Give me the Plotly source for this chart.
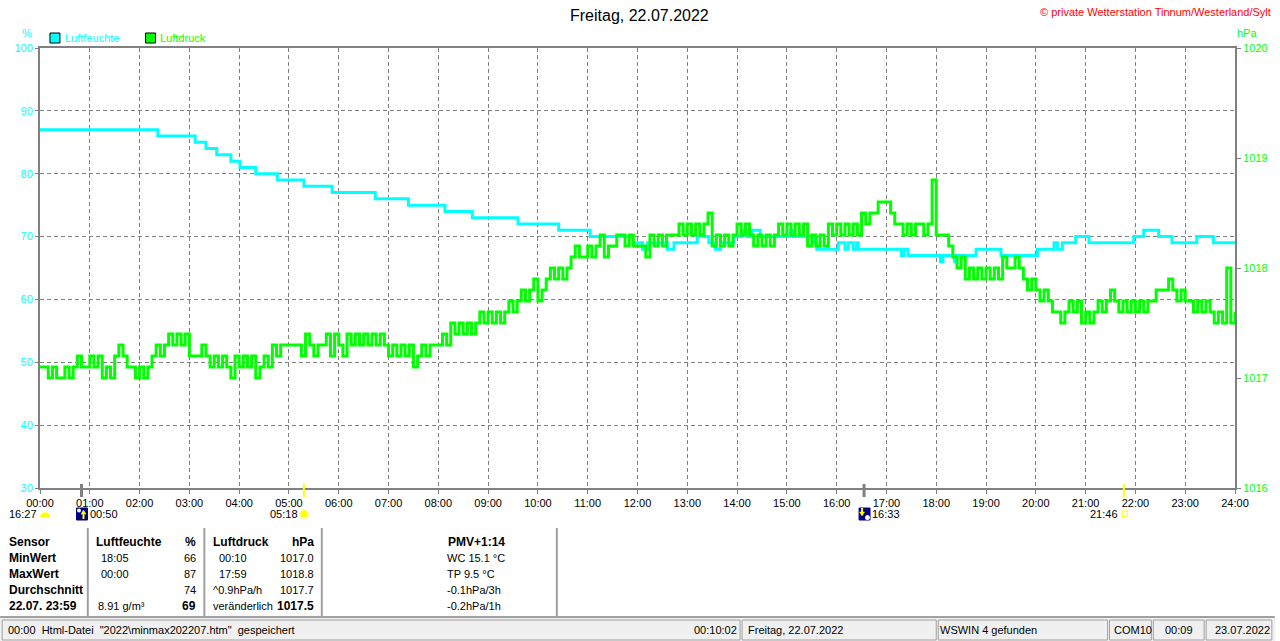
import math
import plotly.graph_objects as go

# --- data -------------------------------------------------------------
hour_labels = ["%02d:00" % h for h in range(25)]

# Luftfeuchte (%), step changes
hum_times = ["00:00", "02:22", "03:07", "03:20", "03:33", "03:50", "04:01", "04:20", "04:46", "05:18",
             "05:52", "06:44", "07:24", "08:08", "08:41", "09:36", "10:25", "11:03", "11:54", "12:06",
             "12:12", "12:36", "12:44", "13:12", "13:26", "13:34", "13:40", "13:56", "14:06", "14:12",
             "14:18", "14:28", "15:04", "15:08", "15:32", "15:36", "16:02", "16:10", "16:14", "16:20",
             "16:24", "16:26", "17:18", "17:21", "17:26", "18:05", "18:08", "18:22", "18:25", "18:48",
             "19:18", "20:02", "20:22", "20:26", "20:32", "20:48", "21:04", "21:58", "22:10", "22:28",
             "22:44", "23:14", "23:34", "24:00"]
hum_values = [87, 86, 85, 84, 83, 82, 81, 80, 79, 78,
              77, 76, 75, 74, 73, 72, 71, 70, 69, 68,
              69, 68, 69, 70, 69, 68, 69, 70, 71, 70,
              71, 70, 71, 70, 69, 68, 69, 68, 69, 68,
              69, 68, 67, 68, 67, 66, 67, 66, 67, 68,
              67, 68, 69, 68, 69, 70, 69, 70, 71, 70,
              69, 70, 69, 69]

# Luftdruck (hPa), one row per hour, 5-minute readings
press_rows = [
    [1017.1, 1017.1, 1017.0, 1017.1, 1017.0, 1017.0, 1017.1, 1017.0, 1017.1, 1017.2, 1017.1, 1017.1],
    [1017.2, 1017.1, 1017.2, 1017.0, 1017.1, 1017.0, 1017.2, 1017.3, 1017.2, 1017.1, 1017.1, 1017.0],
    [1017.1, 1017.0, 1017.1, 1017.2, 1017.3, 1017.2, 1017.3, 1017.4, 1017.3, 1017.4, 1017.3, 1017.4],
    [1017.2, 1017.2, 1017.2, 1017.3, 1017.2, 1017.1, 1017.2, 1017.1, 1017.2, 1017.1, 1017.0, 1017.2],
    [1017.1, 1017.2, 1017.1, 1017.2, 1017.0, 1017.1, 1017.2, 1017.1, 1017.3, 1017.2, 1017.3, 1017.3],
    [1017.3, 1017.3, 1017.3, 1017.2, 1017.4, 1017.3, 1017.2, 1017.3, 1017.3, 1017.4, 1017.2, 1017.4],
    [1017.3, 1017.2, 1017.4, 1017.3, 1017.4, 1017.3, 1017.4, 1017.3, 1017.4, 1017.3, 1017.4, 1017.3],
    [1017.2, 1017.3, 1017.2, 1017.3, 1017.2, 1017.3, 1017.1, 1017.2, 1017.3, 1017.2, 1017.3, 1017.3],
    [1017.3, 1017.4, 1017.3, 1017.5, 1017.4, 1017.5, 1017.4, 1017.5, 1017.4, 1017.5, 1017.6, 1017.5],
    [1017.6, 1017.5, 1017.6, 1017.5, 1017.6, 1017.7, 1017.6, 1017.7, 1017.8, 1017.7, 1017.8, 1017.9],
    [1017.7, 1017.8, 1017.9, 1018.0, 1017.9, 1018.0, 1017.9, 1018.0, 1018.1, 1018.2, 1018.1, 1018.1],
    [1018.2, 1018.1, 1018.2, 1018.3, 1018.1, 1018.2, 1018.2, 1018.3, 1018.3, 1018.2, 1018.3, 1018.2],
    [1018.2, 1018.2, 1018.1, 1018.3, 1018.2, 1018.3, 1018.2, 1018.3, 1018.3, 1018.3, 1018.4, 1018.3],
    [1018.4, 1018.3, 1018.4, 1018.3, 1018.4, 1018.5, 1018.2, 1018.3, 1018.2, 1018.3, 1018.2, 1018.3],
    [1018.4, 1018.3, 1018.4, 1018.3, 1018.2, 1018.3, 1018.2, 1018.3, 1018.2, 1018.3, 1018.4, 1018.3],
    [1018.4, 1018.3, 1018.4, 1018.3, 1018.4, 1018.2, 1018.3, 1018.2, 1018.3, 1018.2, 1018.4, 1018.3],
    [1018.4, 1018.3, 1018.4, 1018.3, 1018.4, 1018.3, 1018.5, 1018.4, 1018.5, 1018.5, 1018.6, 1018.6],
    [1018.6, 1018.5, 1018.4, 1018.4, 1018.3, 1018.4, 1018.3, 1018.4, 1018.4, 1018.3, 1018.4, 1018.8],
    [1018.3, 1018.3, 1018.3, 1018.2, 1018.1, 1018.0, 1018.1, 1017.9, 1018.0, 1017.9, 1018.0, 1017.9],
    [1018.0, 1017.9, 1018.0, 1017.9, 1018.1, 1018.0, 1018.0, 1018.1, 1018.0, 1017.9, 1017.8, 1017.9],
    [1017.8, 1017.7, 1017.8, 1017.7, 1017.6, 1017.6, 1017.5, 1017.6, 1017.7, 1017.6, 1017.7, 1017.5],
    [1017.6, 1017.5, 1017.6, 1017.7, 1017.6, 1017.7, 1017.8, 1017.7, 1017.6, 1017.7, 1017.6, 1017.7],
    [1017.6, 1017.7, 1017.6, 1017.7, 1017.7, 1017.8, 1017.8, 1017.8, 1017.9, 1017.8, 1017.7, 1017.8],
    [1017.7, 1017.7, 1017.6, 1017.7, 1017.6, 1017.7, 1017.6, 1017.5, 1017.6, 1017.5, 1018.0, 1017.5],
]
press_last = 1017.6

sun_times = ["05:18", "21:46"]
moon_times = ["00:50", "16:33"]

table_rows = ["Sensor", "MinWert", "MaxWert", "Durchschnitt", "22.07. 23:59"]
hum_col_time = ["18:05", "00:00", "", "8.91 g/m³"]
hum_col_val = ["66", "87", "74", "69"]
press_col_time = ["00:10", "17:59", "^0.9hPa/h", "veränderlich"]
press_col_val = ["1017.0", "1018.8", "1017.7", "1017.5"]
extra_col = ["WC 15.1 °C", "TP 9.5 °C", "-0.1hPa/3h", "-0.2hPa/1h"]

# --- helpers ----------------------------------------------------------
W, H = 1280, 641
L, R, T, B = 40, 1240, 48, 488
FONT = "Liberation Sans, Arial, sans-serif"
GRAY = "#808080"
CYAN = "#00ffff"
GREEN = "#00ff00"


def to_min(s):
    h, m = s.split(":")
    return int(h) * 60 + int(m)


def px(x):
    return (x - L) / (R - L)


def py(y):
    return (B - y) / (B - T)


def xpix(minutes):
    return L + minutes / 1440 * (R - L)


hum_x = [to_min(t) for t in hum_times]
pressure = [v for row in press_rows for v in row] + [press_last]
press_x = list(range(0, 1441, 5))

fig = go.Figure()
fig.add_trace(go.Scatter(x=press_x, y=pressure, yaxis="y2", mode="lines",
                         line=dict(color=GREEN, width=3, shape="hv"), name="Luftdruck"))
fig.add_trace(go.Scatter(x=hum_x, y=hum_values, mode="lines",
                         line=dict(color=CYAN, width=3, shape="hv"), name="Luftfeuchte"))

shapes = []
annotations = []


def text(x, y, s, anchor="left", color="black", size=11, bold=False):
    annotations.append(dict(x=px(x), y=py(y), xref="paper", yref="paper",
                            text="<b>%s</b>" % s if bold else s, showarrow=False,
                            xanchor=anchor, yanchor="middle", borderpad=0,
                            font=dict(color=color, size=size, family=FONT)))


def rect(x0, y0, x1, y1, fill=None, line="black", lw=1):
    shapes.append(dict(type="rect", xref="paper", yref="paper",
                       x0=px(x0), x1=px(x1), y0=py(y0), y1=py(y1),
                       fillcolor=fill if fill else "rgba(0,0,0,0)",
                       line=dict(color=line, width=lw)))


def seg(x0, y0, x1, y1, color, lw=1):
    shapes.append(dict(type="line", xref="paper", yref="paper",
                       x0=px(x0), x1=px(x1), y0=py(y0), y1=py(y1),
                       line=dict(color=color, width=lw)))


def poly(pts, fill):
    p = "M " + " L ".join("%f,%f" % (px(a), py(b)) for a, b in pts) + " Z"
    shapes.append(dict(type="path", xref="paper", yref="paper", path=p,
                       fillcolor=fill, line=dict(color=fill, width=0.5)))


# title / header
text(642, 15, "Freitag, 22.07.2022", anchor="center", size=16)
text(1277, 12, "© private Wetterstation Tinnum/Westerland/Sylt", anchor="right", color="#ff0000", size=11)
text(27, 33, "%", anchor="center", color=CYAN, size=11)
text(1241, 33, "hPa", color=GREEN, size=11)
rect(50, 33, 60, 43, fill=CYAN)
text(64, 38, "Luftfeuchte", color=CYAN)
rect(146, 33, 156, 43, fill=GREEN)
text(159, 38, "Luftdruck", color=GREEN)

# sun / moon markers on the time axis
for t in sun_times:
    m = to_min(t)
    shapes.append(dict(type="line", xref="x", yref="paper", x0=m, x1=m, y0=py(484), y1=py(497),
                       line=dict(color="#ffff00", width=2)))
for t in moon_times:
    m = to_min(t)
    shapes.append(dict(type="line", xref="x", yref="paper", x0=m, x1=m, y0=py(484), y1=py(497),
                       line=dict(color=GRAY, width=3)))

# moon set at start of day (yellow dome)
text(38, 514, "16:27", anchor="right")
dome = [(45 + 4.5 * math.cos(math.pi * k / 10), 517 - 4.5 * math.sin(math.pi * k / 10)) for k in range(11)]
poly(dome, "#ffff00")

# moonrise 00:50
mx = xpix(to_min(moon_times[0]))
rect(mx - 5, 508, mx + 6, 520, fill="#000080", line="#000080")
shapes.append(dict(type="circle", xref="paper", yref="paper", x0=px(mx - 4.5), x1=px(mx - 0.5),
                   y0=py(508.5), y1=py(512.5), fillcolor="white", line=dict(width=0)))
seg(mx + 2, 519, mx + 2, 513, "#ffff00", 2)
poly([(mx - 0.5, 514), (mx + 4.5, 514), (mx + 2, 510)], "#ffff00")
text(mx + 8, 514, moon_times[0])

# sunrise 05:18
sx = xpix(to_min(sun_times[0]))
shapes.append(dict(type="circle", xref="paper", yref="paper", x0=px(sx - 5), x1=px(sx + 5),
                   y0=py(509), y1=py(519), fillcolor="#ffffa0", line=dict(width=0)))
shapes.append(dict(type="circle", xref="paper", yref="paper", x0=px(sx - 3.5), x1=px(sx + 3.5),
                   y0=py(510.5), y1=py(517.5), fillcolor="#ffff00", line=dict(width=0)))
text(sx - 5, 514, sun_times[0], anchor="right")

# moonset 16:33
mx = xpix(to_min(moon_times[1]))
rect(mx - 5, 508, mx + 6, 520, fill="#000080", line="#000080")
shapes.append(dict(type="circle", xref="paper", yref="paper", x0=px(mx + 1), x1=px(mx + 6),
                   y0=py(515), y1=py(520), fillcolor="white", line=dict(width=0)))
seg(mx - 2, 508, mx - 2, 513, "#ffff00", 2)
poly([(mx - 4.5, 512), (mx + 0.5, 512), (mx - 2, 516)], "#ffff00")
text(mx + 7, 514, moon_times[1])

# sunset 21:46
sx = xpix(to_min(sun_times[1]))
rect(sx - 1.5, 511, sx + 3.5, 517, line="#ffff00", lw=1)
text(sx - 5, 514, sun_times[1], anchor="right")

# --- stats table ------------------------------------------------------
row_y = [542, 558, 574, 590, 606]
for x in [88, 205, 323, 559]:
    seg(x, 528, x, 616, "#a0a0a0", 2)
for i, lab in enumerate(table_rows):
    text(8, row_y[i], lab, bold=True, size=12)
text(95, row_y[0], "Luftfeuchte", bold=True, size=12)
text(198, row_y[0], "%", anchor="right", bold=True, size=12)
text(213, row_y[0], "Luftdruck", bold=True, size=12)
text(316, row_y[0], "hPa", anchor="right", bold=True, size=12)
text(449, row_y[0], "PMV+1:14", bold=True, size=12)
for i in range(4):
    y = row_y[i + 1]
    last = i == 3
    text(97 if last else 100, y, hum_col_time[i])
    text(198, y, hum_col_val[i], anchor="right", bold=last, size=12 if last else 11)
    text(213 if i >= 2 else 219, y, press_col_time[i])
    text(316, y, press_col_val[i], anchor="right", bold=last, size=12 if last else 11)
    text(448, y, extra_col[i])

# --- status bar -------------------------------------------------------
rect(0, 618, 1280, 641, fill="#f0f0f0", line="#f0f0f0")
seg(0, 617, 1280, 617, "#a0a0a0", 2)
panels = [(2, 743), (745, 940), (942, 1112), (1114, 1156), (1158, 1209), (1211, 1277)]
for a, b in panels:
    rect(a, 620, b, 640, line="#a0a0a0")
text(7, 630, '00:00  Html-Datei  "2022\\minmax202207.htm"  gespeichert')
text(741, 630, "00:10:02", anchor="right")
text(750, 630, "Freitag, 22.07.2022")
text(943, 630, "WSWIN 4 gefunden")
text(1117, 630, "COM10")
text(1184, 630, "00:09", anchor="center")
text(1219, 630, "23.07.2022")

fig.update_layout(
    width=W, height=H, autosize=False,
    margin=dict(l=L, r=W - R, t=T, b=H - B, pad=0),
    plot_bgcolor="white", paper_bgcolor="white",
    showlegend=False,
    font=dict(family=FONT, size=11, color="black"),
    xaxis=dict(range=[0, 1440], tickvals=list(range(0, 1441, 60)), ticktext=hour_labels,
               ticks="outside", ticklen=4, tickcolor=GRAY, tickfont=dict(size=11, color="black"),
               showgrid=True, gridcolor=GRAY, griddash="4px,3px", gridwidth=1,
               showline=True, linecolor=GRAY, linewidth=2, mirror=True, zeroline=False),
    yaxis=dict(range=[30, 100], tickvals=list(range(30, 101, 10)),
               ticks="outside", ticklen=3, tickcolor=GRAY, tickfont=dict(size=11, color=CYAN),
               showgrid=True, gridcolor=GRAY, griddash="4px,3px", gridwidth=1,
               showline=True, linecolor=GRAY, linewidth=2, mirror=True, zeroline=False),
    yaxis2=dict(range=[1016, 1020], tickvals=[1016, 1017, 1018, 1019, 1020], overlaying="y", side="right",
                ticks="outside", ticklen=5, tickcolor=GRAY, tickfont=dict(size=11, color=GREEN),
                showgrid=False, showline=False, zeroline=False),
    shapes=shapes,
    annotations=annotations,
)

# page has a default 8px body margin; drop it so the figure fills the window
fig.write_html("out.html", config={"displayModeBar": False},
               post_script="document.body.style.margin='0';")
